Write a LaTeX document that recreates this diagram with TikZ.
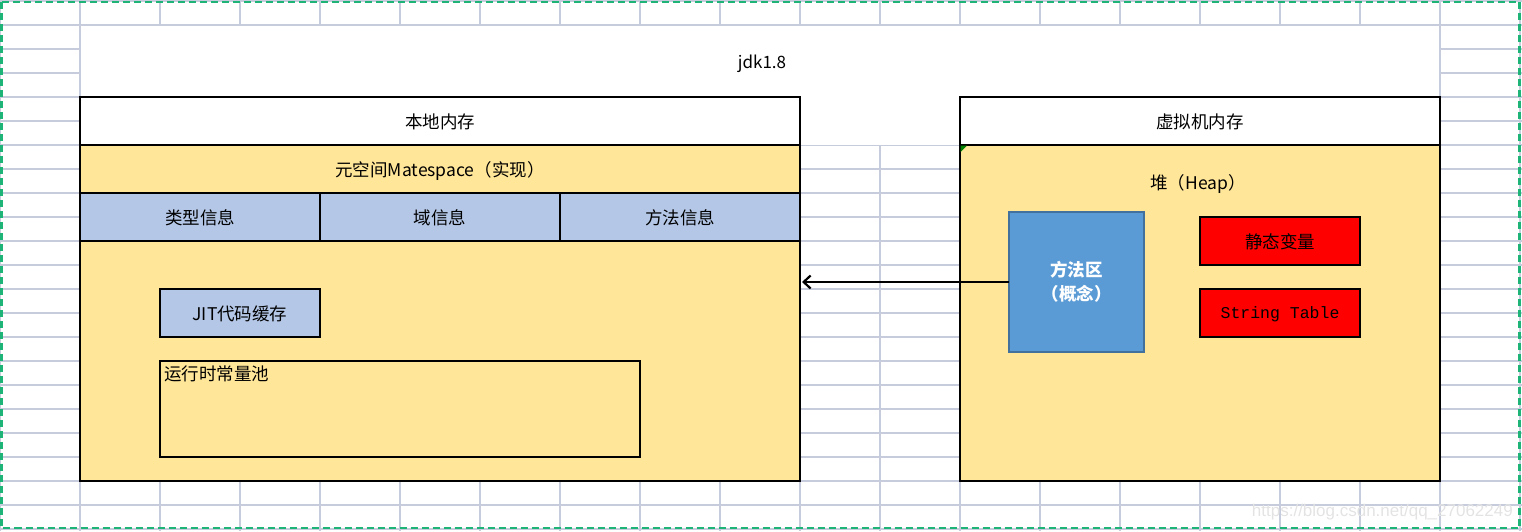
\documentclass[tikz,border=0pt]{standalone}
\usepackage{fontspec}
\setmainfont{Noto Sans CJK SC}
\newfontfamily\monofont{Liberation Mono}
\newfontfamily\wmfont{Liberation Sans}
\usetikzlibrary{arrows.meta}
\definecolor{gridc}{RGB}{198,204,220}
\definecolor{ylw}{RGB}{255,230,153}
\definecolor{lblue}{RGB}{180,199,231}
\definecolor{mblue}{RGB}{91,155,213}
\definecolor{mbluedark}{RGB}{65,113,156}
\definecolor{selgreen}{RGB}{30,180,120}
\definecolor{commentgreen}{RGB}{0,128,0}
\begin{document}
\begin{tikzpicture}[x=1pt,y=-1pt,
  cell/.style={draw=black, line width=1.4pt, inner sep=0pt, outer sep=0pt, anchor=north west,
    font=\fontsize{17.5}{20}\selectfont, text height=1.4em, text depth=0em},
  lbl/.style={inner sep=0pt, font=\fontsize{17.5}{20}\selectfont},
  redbox/.style={cell, fill=red},
]
\useasboundingbox (0,0) rectangle (1522,531);
% spreadsheet grid
\foreach \i in {0,...,19} \draw[gridc, line width=1.1pt] (80*\i,0) -- (80*\i,531);
\foreach \j in {0,...,22} \draw[gridc, line width=1.1pt] (0,1+24*\j) -- (1522,1+24*\j);
% merged white region
\fill[white] (80.6,25.6) rectangle (1439.4,145);
% left: local memory
\node[cell, fill=white, minimum width=720pt, minimum height=48pt] (lh) at (80,97) {本地内存};
\node[cell, fill=ylw, minimum width=720pt, minimum height=48pt] (meta) at (80,145) {元空间Matespace（实现）};
\node[cell, fill=lblue, minimum width=240pt, minimum height=48pt] (c1) at (80,193) {类型信息};
\node[cell, fill=lblue, minimum width=240pt, minimum height=48pt] (c2) at (320,193) {域信息};
\node[cell, fill=lblue, minimum width=240pt, minimum height=48pt] (c3) at (560,193) {方法信息};
\node[cell, fill=ylw, minimum width=720pt, minimum height=240pt] (lb) at (80,241) {};
\node[cell, fill=lblue, minimum width=160pt, minimum height=48pt] (jit) at (160,289) {JIT代码缓存};
\node[cell, fill=ylw, minimum width=480pt, minimum height=96pt] (pool) at (160,361) {};
\node[lbl, anchor=north west] (pooltxt) at (164,366) {运行时常量池};
% right: VM memory
\node[cell, fill=white, minimum width=480pt, minimum height=48pt] (rh) at (960,97) {虚拟机内存};
\node[cell, fill=ylw, minimum width=480pt, minimum height=336pt] (heap) at (960,145) {};
\fill[commentgreen] (960.7,145.7) -- (967,145.7) -- (960.7,152) -- cycle;
\node[lbl] (heaptxt) at (1198,184) {堆（Heap）};
\node[draw=mbluedark, line width=2.2pt, fill=mblue, inner sep=0pt, outer sep=0pt, anchor=north west,
  minimum width=135pt, minimum height=140pt, text=white, align=center,
  font=\fontsize{17.5}{24}\selectfont\bfseries] (ma) at (1009,212) {方法区\\（概念）};
\node[redbox, minimum width=160pt, minimum height=48pt] (sv) at (1200,217) {静态变量};
\node[redbox, minimum width=160pt, minimum height=48pt, font=\fontsize{16.5}{20}\monofont, text height=1.05em, text depth=0em] (st) at (1200,289) {String Table};
% title
\node[lbl, font=\fontsize{17}{20}\selectfont] (title) at (762,64) {jdk1.8};
% arrow
\draw[line width=2.2pt, -{Straight Barb[length=7pt,width=13pt,line width=2.2pt]}] (ma.west |- 0,282) -- (802,282) coordinate (arrEnd);
% selection border
\draw[selgreen, line width=2.6pt, dash pattern=on 7pt off 4pt] (1.5,2) rectangle (1519.5,528);
% watermark
\node[inner sep=0pt, anchor=east, text=gray!22, font=\wmfont\fontsize{17}{20}\selectfont] (wm) at (1513,512) {https://blog.csdn.net/qq\_27062249};
\end{tikzpicture}
\end{document}
